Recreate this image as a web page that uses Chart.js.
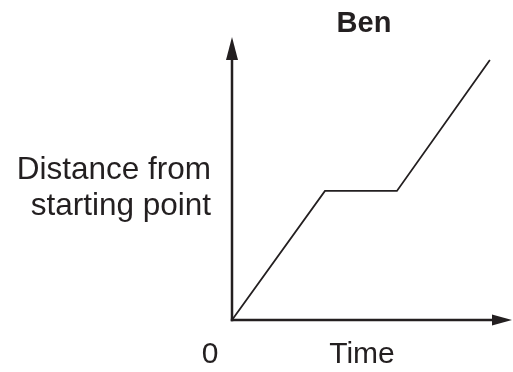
<!DOCTYPE html>
<html>
<head>
<meta charset="utf-8">
<script src="https://cdn.jsdelivr.net/npm/chart.js@4"></script>
<style>
html,body{margin:0;padding:0;background:#fff;}
canvas{display:block;}
</style>
</head>
<body>
<canvas id="c" width="513" height="372"></canvas>
<script>
const timeValues = [0, 3.32, 5.89, 9.21];
const distanceValues = [0, 4.56, 4.56, 9.19];
const titleText = 'Ben';
const yLabelLines = ['Distance from', 'starting point'];
const xLabelText = 'Time';
const originLabel = '0';

const ink = '#231f20';

const axesPlugin = {
  id: 'axesText',
  beforeDatasetsDraw(chart) {
    const ctx = chart.ctx;
    const xs = chart.scales.x, ys = chart.scales.y;
    const ox = xs.getPixelForValue(0), oy = ys.getPixelForValue(0);
    const top = chart.chartArea.top, right = chart.chartArea.right;
    ctx.save();
    ctx.strokeStyle = ink; ctx.fillStyle = ink;
    ctx.lineWidth = 2.5;
    ctx.lineCap = 'butt';
    // y axis
    ctx.beginPath(); ctx.moveTo(ox, oy + 1.25); ctx.lineTo(ox, top + 23); ctx.stroke();
    ctx.beginPath(); ctx.moveTo(ox, top); ctx.lineTo(ox - 6, top + 23); ctx.lineTo(ox + 6, top + 23); ctx.closePath(); ctx.fill();
    // x axis
    ctx.beginPath(); ctx.moveTo(ox - 1.25, oy); ctx.lineTo(right - 19, oy); ctx.stroke();
    ctx.beginPath(); ctx.moveTo(right, oy); ctx.lineTo(right - 20, oy - 5.5); ctx.lineTo(right - 20, oy + 5.5); ctx.closePath(); ctx.fill();
    ctx.restore();
  },
  afterDraw(chart) {
    const ctx = chart.ctx;
    const xs = chart.scales.x, ys = chart.scales.y;
    const ox = xs.getPixelForValue(0), oy = ys.getPixelForValue(0);
    ctx.save();
    ctx.fillStyle = ink;
    ctx.textBaseline = 'alphabetic';
    ctx.font = 'bold 29px "Liberation Sans", Arial, sans-serif';
    ctx.textAlign = 'center';
    ctx.fillText(titleText, 364, 32);
    ctx.font = '31.5px "Liberation Sans", Arial, sans-serif';
    ctx.textAlign = 'right';
    ctx.fillText(yLabelLines[0], ox - 21, 179);
    ctx.fillText(yLabelLines[1], ox - 21, 215);
    ctx.font = '30px "Liberation Sans", Arial, sans-serif';
    ctx.textAlign = 'center';
    ctx.fillText(originLabel, ox - 22, oy + 43);
    ctx.fillText(xLabelText, 362, oy + 43);
    ctx.restore();
  }
};

new Chart(document.getElementById('c'), {
  type: 'scatter',
  data: {
    datasets: [{
      data: timeValues.map((t, i) => ({x: t, y: distanceValues[i]})),
      showLine: true,
      borderColor: ink,
      borderWidth: 1.8,
      pointRadius: 0,
      tension: 0,
      fill: false,
      clip: false
    }]
  },
  options: {
    responsive: false,
    animation: false,
    layout: { padding: { left: 232, right: 1, top: 37, bottom: 52 } },
    plugins: { legend: { display: false }, title: { display: false }, tooltip: { enabled: false } },
    scales: {
      x: { type: 'linear', min: 0, max: 10, display: false },
      y: { type: 'linear', min: 0, max: 10, display: false }
    }
  },
  plugins: [axesPlugin]
});
</script>
</body>
</html>
